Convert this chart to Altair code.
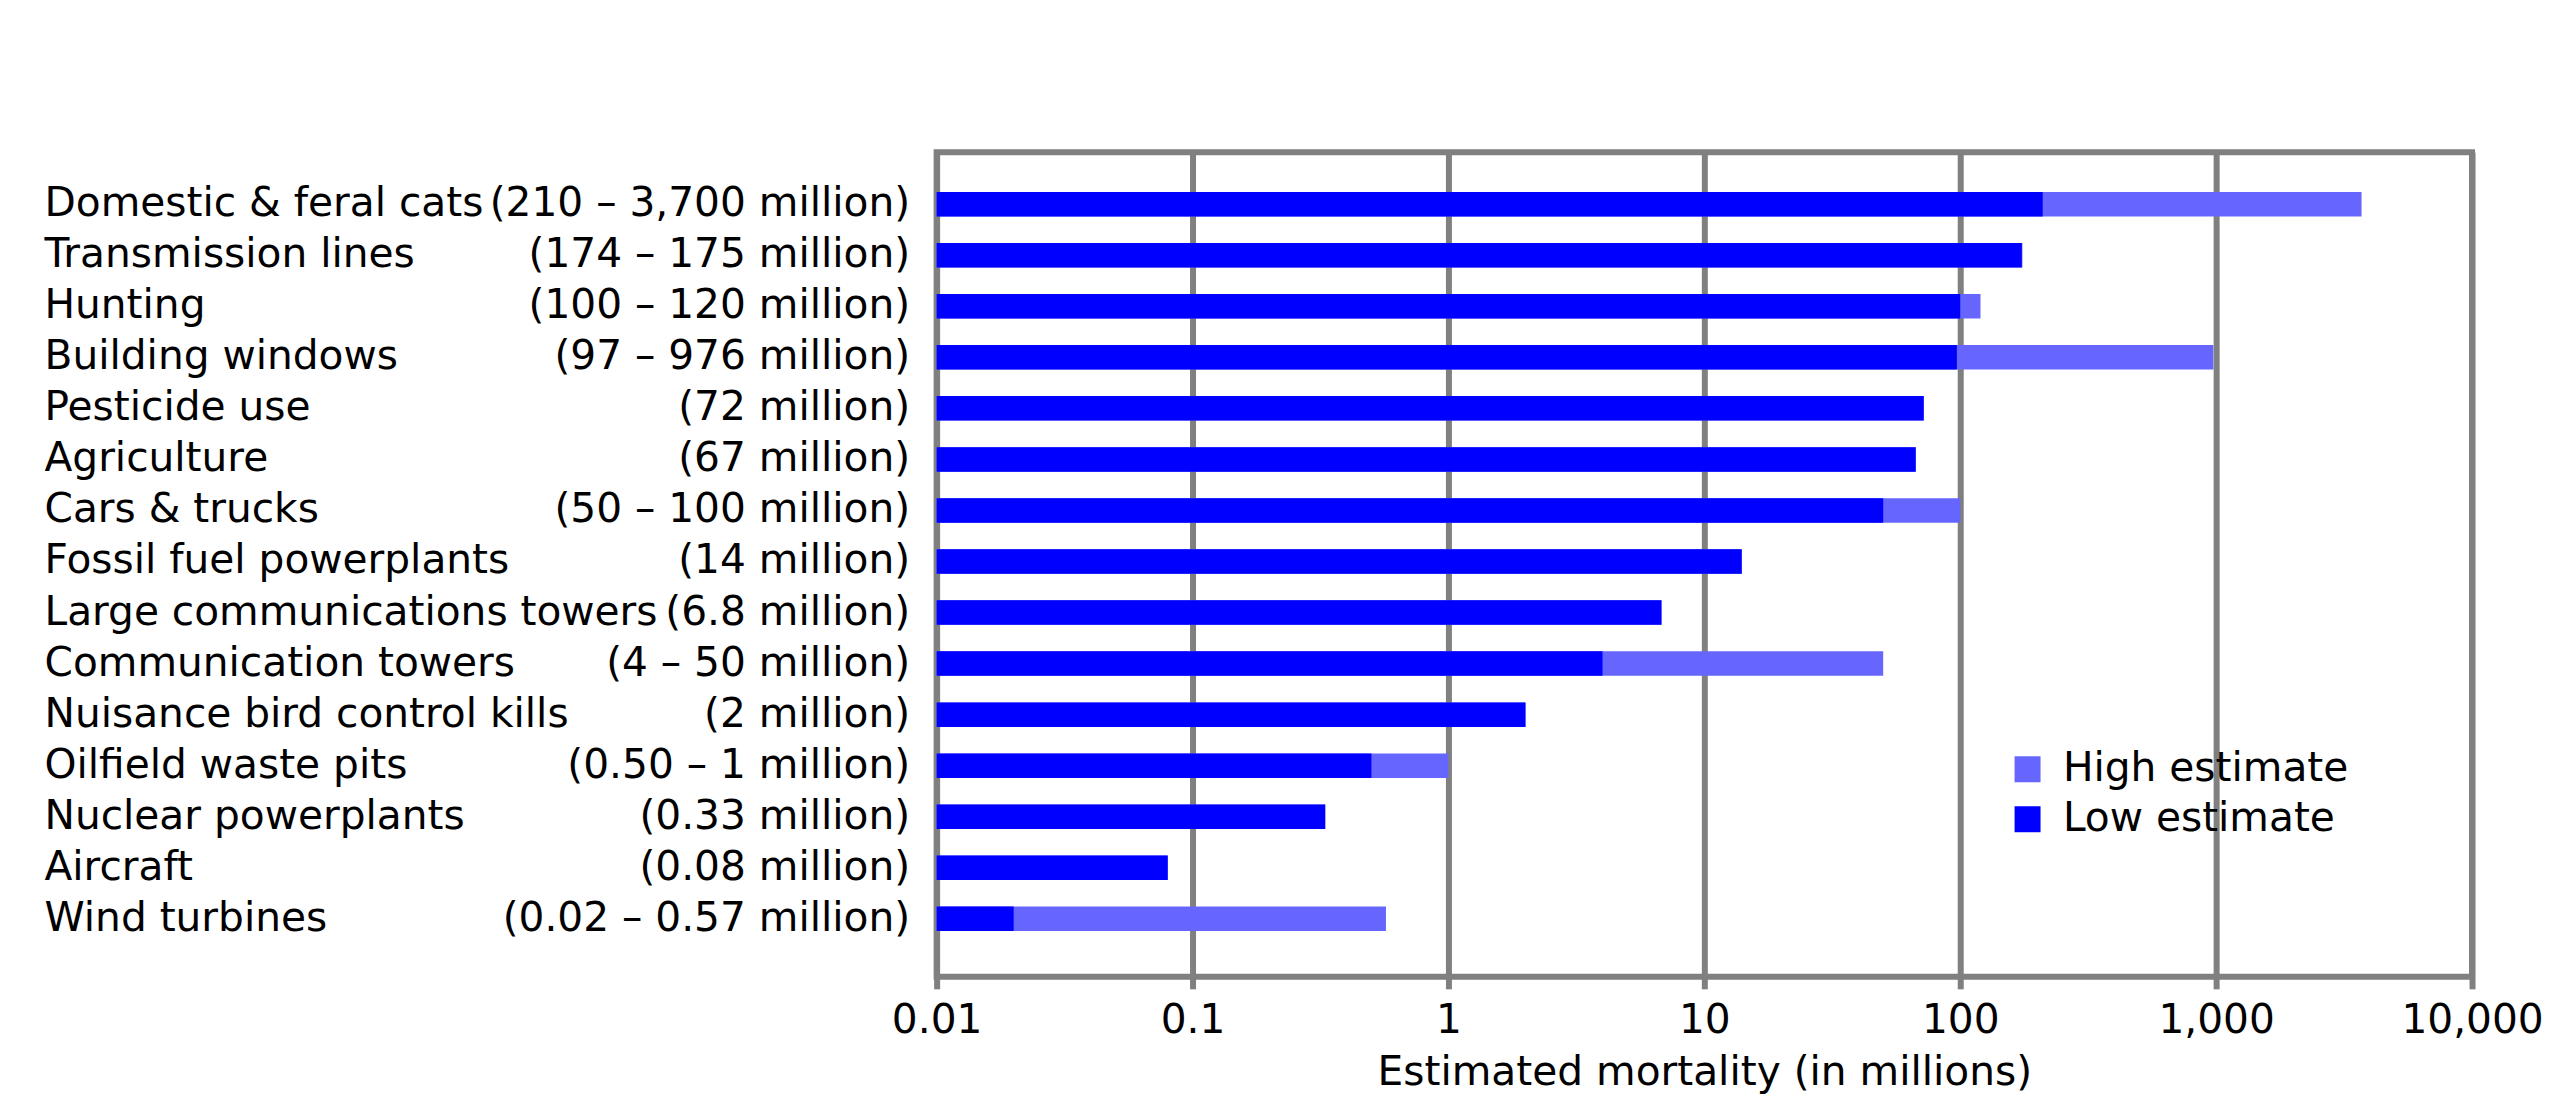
import altair as alt
import pandas as pd

categories = [
    "Domestic & feral cats", "Transmission lines", "Hunting", "Building windows",
    "Pesticide use", "Agriculture", "Cars & trucks", "Fossil fuel powerplants",
    "Large communications towers", "Communication towers",
    "Nuisance bird control kills", "Oilfield waste pits", "Nuclear powerplants",
    "Aircraft", "Wind turbines",
]
range_labels = [
    "(210 – 3,700 million)", "(174 – 175 million)", "(100 – 120 million)",
    "(97 – 976 million)", "(72 million)", "(67 million)", "(50 – 100 million)",
    "(14 million)", "(6.8 million)", "(4 – 50 million)", "(2 million)",
    "(0.50 – 1 million)", "(0.33 million)", "(0.08 million)", "(0.02 – 0.57 million)",
]
low_estimate = [210, 174, 100, 97, 72, 67, 50, 14, 6.8, 4, 2, 0.5, 0.33, 0.08, 0.02]
high_estimate = [3700, 175, 120, 976, 72, 67, 100, 14, 6.8, 50, 2, 1, 0.33, 0.08, 0.57]
tick_values = [0.01, 0.1, 1, 10, 100, 1000, 10000]

rows = []
for c, r, v in zip(categories, range_labels, high_estimate):
    rows.append({"cat": c, "rng": r, "type": "High estimate", "value": v})
for c, r, v in zip(categories, range_labels, low_estimate):
    rows.append({"cat": c, "rng": r, "type": "Low estimate", "value": v})
df = pd.DataFrame(rows)

GRAY = "#808080"
FONT = "DejaVu Sans"
FS = 40.7
LW = 6

def yscale():
    return alt.Scale(type="band", paddingInner=0.52, paddingOuter=0.837, align=0.465)

xscale = alt.Scale(type="log", domain=[0.01, 10000])

bars = alt.Chart(df).mark_bar().transform_calculate(
    base="0.01"
).encode(
    y=alt.Y("cat:N", sort=categories, scale=yscale(), title=None,
            axis=alt.Axis(labelAlign="left", labelPadding=893, ticks=False, tickSize=0,
                          domain=False, grid=False, labelLimit=2000,
                          labelFontSize=FS, labelFont=FONT, labelColor="black",
                          labelBaseline="middle")),
    x=alt.X("base:Q", scale=xscale, title="Estimated mortality (in millions)",
            axis=alt.Axis(values=tick_values, format=",~g", grid=True,
                          gridColor=GRAY, gridWidth=LW, gridOpacity=1,
                          domain=False, tickColor=GRAY, tickWidth=LW, tickSize=12,
                          labelPadding=12, labelFontSize=FS, labelFont=FONT,
                          labelColor="black", labelFlush=False,
                          titleFontSize=FS, titleFont=FONT, titleFontWeight="normal",
                          titleColor="black", titlePadding=12)),
    x2="value:Q",
    color=alt.Color("type:N",
                    scale=alt.Scale(domain=["High estimate", "Low estimate"],
                                    range=["#6666ff", "#0000ff"]),
                    legend=alt.Legend(orient="none", legendX=1071, legendY=597,
                                      title=None, labelFontSize=FS, labelFont=FONT,
                                      labelColor="black", labelLimit=2000,
                                      symbolType="square",
                                      symbolSize=676, symbolStrokeWidth=0,
                                      symbolOpacity=1, rowPadding=8,
                                      labelOffset=15, padding=0)),
    order=alt.Order("type:N", sort="ascending"),
)

labels = alt.Chart(df).mark_bar(opacity=0).transform_calculate(
    base="0.01"
).encode(
    y=alt.Y("rng:N", sort=range_labels, scale=yscale(), title=None,
            axis=alt.Axis(orient="left", labelAlign="right", labelPadding=27,
                          ticks=False, tickSize=0, domain=False, grid=False,
                          labelLimit=2000, labelFontSize=FS, labelFont=FONT,
                          labelColor="black", labelBaseline="middle")),
    x=alt.X("base:Q", scale=xscale),
    x2="value:Q",
)

chart = alt.layer(bars, labels).resolve_scale(y="independent").properties(
    width=1536, height=825,
    autosize=alt.AutoSizeParams(type="none"),
    padding={"left": 929, "top": 144, "right": 80, "bottom": 120},
).configure_view(stroke=GRAY, strokeWidth=LW)

chart.save("out.html", embed_options={"renderer": "svg", "actions": False})
